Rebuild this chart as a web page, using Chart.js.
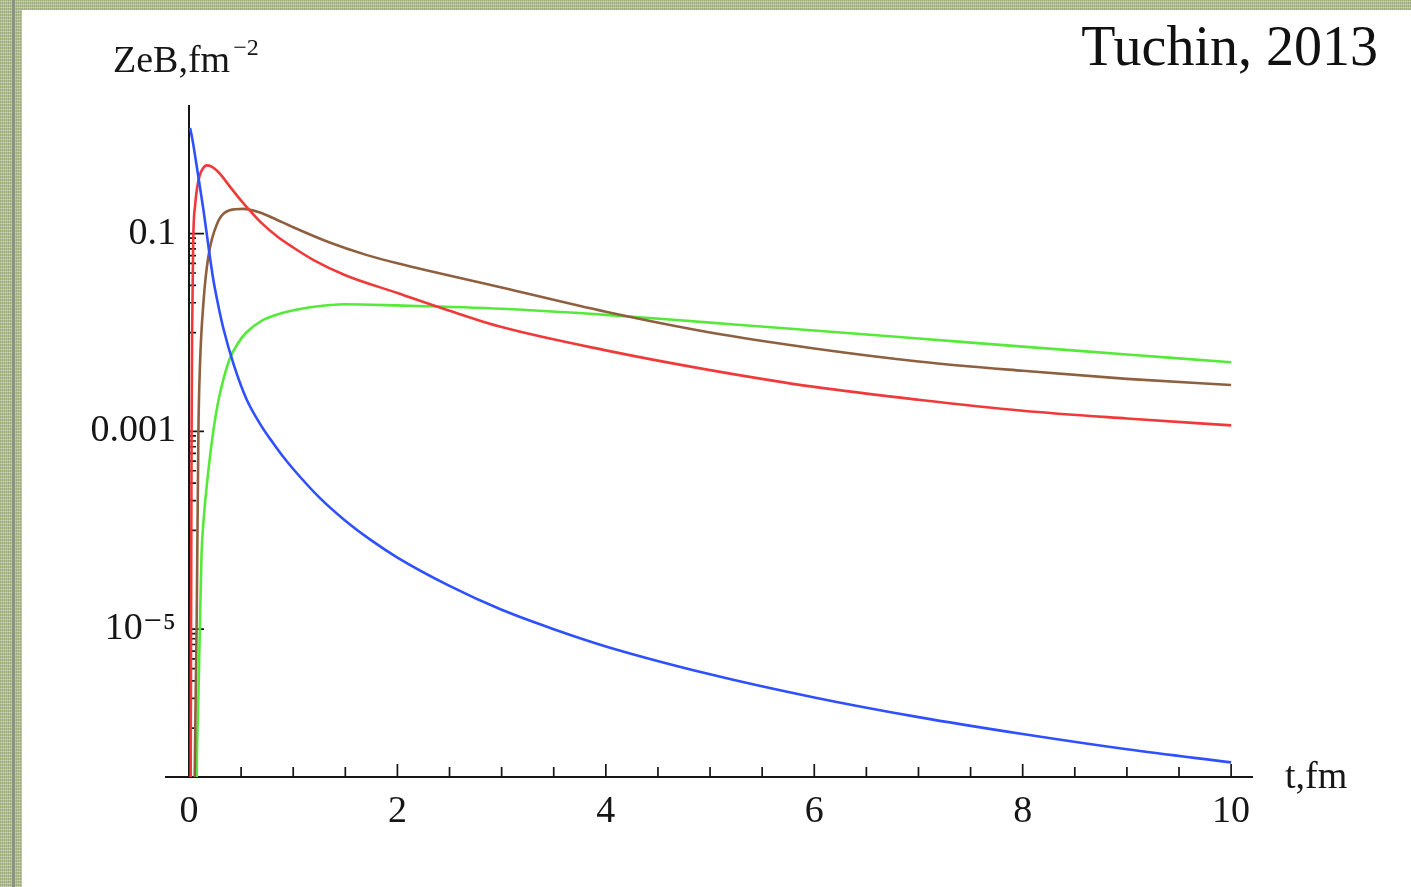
<!DOCTYPE html>
<html>
<head>
<meta charset="utf-8">
<script src="https://cdn.jsdelivr.net/npm/chart.js@4.4.1/dist/chart.umd.min.js"></script>
<style>
  html, body { margin: 0; padding: 0; }
  body {
    width: 1411px; height: 887px; overflow: hidden; position: relative;
    background-color: #b3c091;
    background-image:
      repeating-linear-gradient(0deg, rgba(255,255,255,0.28) 0 1px, transparent 1px 3px),
      repeating-linear-gradient(90deg, rgba(70,90,40,0.20) 0 1px, transparent 1px 2px);
  }
  #rule { position: absolute; left: 12px; top: 0; bottom: 0; width: 3px; background: #8b9183; }
  #sheet { position: absolute; left: 22px; top: 10px; right: 0; bottom: 0; background: #fff; }
  #cite {
    position: absolute; right: 33px; top: 18px;
    font: 56px/1 'Liberation Serif', 'DejaVu Serif', serif; color: #111;
  }
  canvas { position: absolute; left: 0; top: 0; }
</style>
</head>
<body>
<div id="rule"></div>
<div id="sheet"></div>
<div id="cite">Tuchin, 2013</div>
<canvas id="myChart" width="1411" height="887"></canvas>
<script>
// Valores (t em fm, ZeB em fm^-2)
const blueT  = [0.01, 0.03, 0.06, 0.1, 0.14, 0.17, 0.23, 0.28, 0.33, 0.43, 0.55, 0.7, 0.8, 0.9, 1, 1.25, 1.5, 1.75, 2, 2.5, 3, 3.5, 4, 5, 6, 7, 8, 9, 10];
const blueB  = [1.17, 0.93, 0.60, 0.32, 0.17, 0.1, 0.036, 0.019, 0.011, 0.0047, 0.00214, 0.00111, 7.8e-4, 5.6e-4, 4.17e-4, 2.15e-4, 1.25e-4, 7.9e-5, 5.3e-5, 2.74e-5, 1.57e-5, 1.0e-5, 6.7e-6, 3.5e-6, 2.04e-6, 1.29e-6, 8.7e-7, 6.1e-7, 4.5e-7];

const redT   = [0.015, 0.025, 0.03, 0.04, 0.06, 0.08, 0.1, 0.13, 0.17, 0.21, 0.25, 0.3, 0.4, 0.5, 0.6, 0.7, 0.85, 1, 1.2, 1.5, 2, 2.5, 3, 4, 5, 6, 7, 8, 9, 10];
const redB   = [1e-7, 1e-3, 0.01, 0.08, 0.2, 0.3, 0.38, 0.45, 0.49, 0.48, 0.45, 0.40, 0.292, 0.216, 0.164, 0.127, 0.093, 0.0724, 0.0537, 0.038, 0.0251, 0.0166, 0.01135, 0.0066, 0.00417, 0.00282, 0.00209, 0.00162, 0.00135, 0.00115];

const brownT = [0.05, 0.06, 0.074, 0.09, 0.105, 0.14, 0.185, 0.27, 0.39, 0.52, 0.68, 0.8, 1, 1.35, 1.7, 2, 3, 4, 5, 6, 7, 8, 9, 10];
const brownB = [1e-7, 1e-6, 1.3e-5, 9.5e-4, 0.0046, 0.021, 0.058, 0.126, 0.172, 0.178, 0.164, 0.145, 0.116, 0.0813, 0.061, 0.0501, 0.0285, 0.0162, 0.0100, 0.0069, 0.0051, 0.0041, 0.0034, 0.00295];

const greenT = [0.07, 0.074, 0.09, 0.106, 0.12, 0.14, 0.17, 0.2, 0.25, 0.3, 0.39, 0.47, 0.55, 0.7, 0.87, 1.2, 1.5, 2, 3, 4, 5, 6, 7, 8, 9, 10];
const greenB = [1e-7, 3.5e-7, 2e-6, 1.26e-5, 5.6e-5, 1.26e-4, 2.8e-4, 5.4e-4, 0.00132, 0.0025, 0.0054, 0.0078, 0.010, 0.0132, 0.0155, 0.0182, 0.0193, 0.0188, 0.0174, 0.0151, 0.0126, 0.0105, 0.0087, 0.0072, 0.0060, 0.0050];

// Marcas dos eixos
const xMajorTicks = [0, 2, 4, 6, 8, 10];
const xMinorTicks = [0.5, 1, 1.5, 2.5, 3, 3.5, 4.5, 5, 5.5, 6.5, 7, 7.5, 8.5, 9, 9.5];
const yMajorTicks = [1e-5, 1e-3, 0.1];
const yTickLabels = ['10\u207B\u2075', '0.001', '0.1'];
const xTitle = 't,fm';
const yTitle = 'ZeB,fm';
const yTitleSup = '\u22122';

// sub-marcas logarítmicas: k * 10^(n-1) abaixo de cada marca principal
const yMinorTicks = [];
yMajorTicks.forEach(m => {
    for (let k = 1; k <= 9; k++) yMinorTicks.push(k * m / 10);
});

const serif = "'Liberation Serif', 'DejaVu Serif', serif";
const ink = '#161616';

function pts(ts, bs) {
    return ts.map((t, i) => ({ x: t, y: bs[i] }));
}

// Eixos no estilo do Mathematica (marcas para dentro, eixo y em t = 0)
const mathAxes = {
    id: 'mathAxes',
    beforeDatasetsDraw(chart) {
        const { ctx, chartArea: a, scales: { x, y } } = chart;
        const x0 = x.getPixelForValue(0);
        ctx.save();
        ctx.strokeStyle = ink;
        ctx.lineWidth = 2;
        ctx.beginPath();
        ctx.moveTo(a.left - 24, a.bottom);
        ctx.lineTo(a.right, a.bottom);
        ctx.moveTo(x0, a.bottom);
        ctx.lineTo(x0, a.top);
        ctx.stroke();

        ctx.lineWidth = 1.7;
        ctx.beginPath();
        xMajorTicks.forEach(v => {
            if (v === 0) return;
            const px = x.getPixelForValue(v);
            ctx.moveTo(px, a.bottom);
            ctx.lineTo(px, a.bottom - 13);
        });
        xMinorTicks.forEach(v => {
            const px = x.getPixelForValue(v);
            ctx.moveTo(px, a.bottom);
            ctx.lineTo(px, a.bottom - 10);
        });
        yMajorTicks.forEach(v => {
            const py = y.getPixelForValue(v);
            ctx.moveTo(x0, py);
            ctx.lineTo(x0 + 15, py);
        });
        yMinorTicks.forEach(v => {
            const py = y.getPixelForValue(v);
            if (py > a.bottom) return;
            ctx.moveTo(x0, py);
            ctx.lineTo(x0 + 7, py);
        });
        ctx.stroke();
        ctx.restore();
    },
    afterDraw(chart) {
        const { ctx, chartArea: a } = chart;
        ctx.save();
        ctx.fillStyle = ink;
        ctx.textBaseline = 'alphabetic';
        ctx.font = '38px ' + serif;
        ctx.fillText(yTitle, a.left - 76, a.top - 33);
        const w = ctx.measureText(yTitle).width;
        ctx.font = '24px ' + serif;
        ctx.fillText(yTitleSup, a.left - 76 + w + 3, a.top - 50);
        ctx.font = '38px ' + serif;
        ctx.fillText(xTitle, a.right + 32, a.bottom + 11);
        ctx.restore();
    }
};

const ctx = document.getElementById('myChart').getContext('2d');

const myChart = new Chart(ctx, {
    type: 'line',
    data: {
        datasets: [
            { data: pts(blueT, blueB), borderColor: '#2f50ff' },
            { data: pts(redT, redB), borderColor: '#f03a3a' },
            { data: pts(brownT, brownB), borderColor: '#8e6040' },
            { data: pts(greenT, greenB), borderColor: '#55ea3a' }
        ].map(d => Object.assign(d, {
            borderWidth: 2.6,
            pointRadius: 0,
            fill: false,
            cubicInterpolationMode: 'monotone'
        }))
    },
    options: {
        responsive: false,
        animation: false,
        devicePixelRatio: 1,
        layout: { padding: { left: 0, top: 105, right: 158, bottom: 50 } },
        plugins: {
            legend: { display: false },
            tooltip: { enabled: false }
        },
        scales: {
            x: {
                type: 'linear',
                min: 0,
                max: 10.21,
                grid: { display: false, drawTicks: false },
                border: { display: false },
                afterBuildTicks: s => { s.ticks = xMajorTicks.map(v => ({ value: v })); },
                afterFit: s => { s.height = 60; },
                ticks: {
                    color: ink,
                    padding: 12,
                    maxRotation: 0,
                    autoSkip: false,
                    font: { family: serif, size: 38 },
                    callback: v => String(v)
                }
            },
            y: {
                type: 'logarithmic',
                min: 3.2e-7,
                max: 2.0,
                grid: { display: false, drawTicks: false },
                border: { display: false },
                afterBuildTicks: s => { s.ticks = yMajorTicks.map(v => ({ value: v })); },
                afterFit: s => { s.width = 189; },
                ticks: {
                    color: ink,
                    padding: 13,
                    autoSkip: false,
                    font: { family: serif, size: 38 },
                    callback: (v, i) => yTickLabels[i]
                }
            }
        }
    },
    plugins: [mathAxes]
});
</script>
</body>
</html>
